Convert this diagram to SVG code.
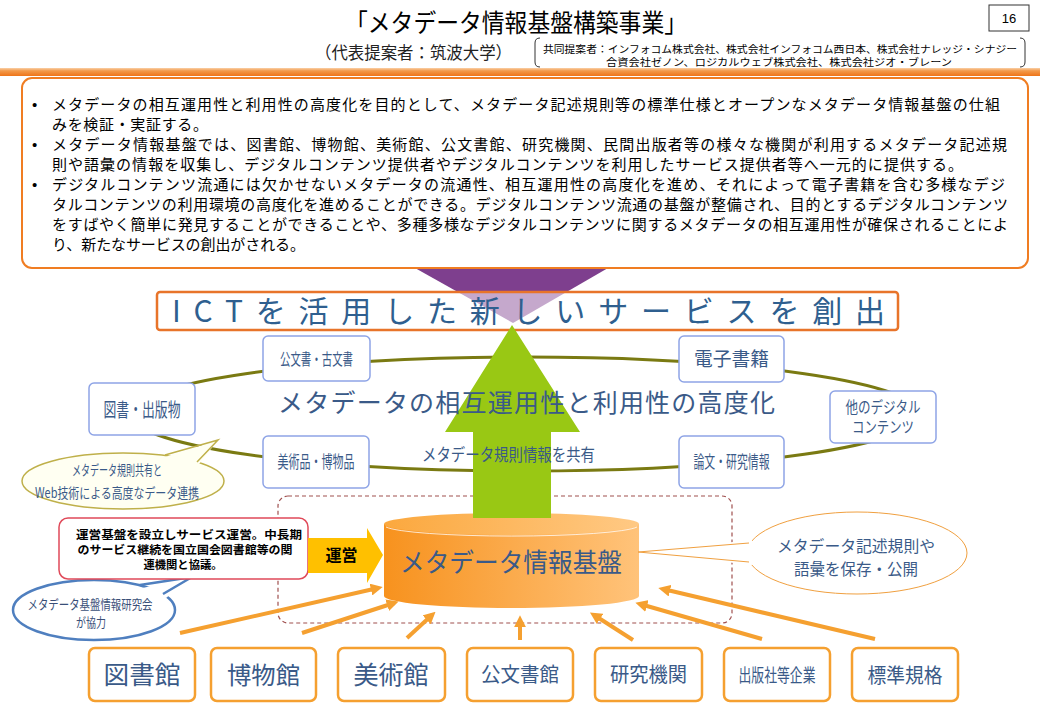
<svg xmlns="http://www.w3.org/2000/svg" width="1040" height="720" viewBox="0 0 1040 720">
<defs>
<style>
text{font-family:'Noto Sans CJK JP','Noto Sans',sans-serif;}
.blk{fill:#000;}
.blu{fill:#3A5A88;}
.ringbox{fill:#fff;stroke:#8EA4E6;stroke-width:1.5;}
.botbox{fill:#fff;stroke:#F5A030;stroke-width:2.5;}
.conn{stroke:#F5A030;stroke-width:4;fill:none;marker-end:url(#ah);}
</style>
<marker id="ah" viewBox="0 0 10 10" refX="6" refY="5" markerWidth="3" markerHeight="3" orient="auto" markerUnits="strokeWidth">
<path d="M0,0 L10,5 L0,10 Z" fill="#F5A030"/>
</marker>
<linearGradient id="hdr" x1="0" y1="0" x2="0" y2="1">
<stop offset="0" stop-color="#FAD0A8"/>
<stop offset="0.35" stop-color="#F39A4A"/>
<stop offset="1" stop-color="#EE7418"/>
</linearGradient>
<linearGradient id="cylBody" x1="0" y1="0" x2="1" y2="0">
<stop offset="0" stop-color="#F7921E"/>
<stop offset="1" stop-color="#FFC37A"/>
</linearGradient>
<linearGradient id="cylTop" x1="0" y1="0" x2="1" y2="0">
<stop offset="0" stop-color="#FBA83E"/>
<stop offset="1" stop-color="#FFC984"/>
</linearGradient>
</defs>

<!-- header -->
<g id="header">
<text x="345" y="32" font-size="25" textLength="342" lengthAdjust="spacingAndGlyphs" class="blk">「メタデータ情報基盤構築事業」</text>
<rect x="989" y="5" width="40" height="26" fill="#fff" stroke="#333" stroke-width="1"/>
<text x="1009" y="23" font-size="13" text-anchor="middle" style="font-family:'Liberation Sans',sans-serif" class="blk">16</text>
<text x="315" y="59" font-size="17" textLength="197" lengthAdjust="spacingAndGlyphs" fill="#222">（代表提案者：筑波大学）</text>
<path d="M540 38 Q535 38 535 43 L535 62 Q535 67 540 67" fill="none" stroke="#333" stroke-width="1"/>
<path d="M1020 38 Q1025 38 1025 43 L1025 62 Q1025 67 1020 67" fill="none" stroke="#333" stroke-width="1"/>
<text x="543" y="52.5" font-size="10" textLength="474" lengthAdjust="spacingAndGlyphs" class="blk">共同提案者：インフォコム株式会社、株式会社インフォコム西日本、株式会社ナレッジ・シナジー</text>
<text x="606" y="65.5" font-size="10" textLength="346" lengthAdjust="spacingAndGlyphs" class="blk">合資会社ゼノン、ロジカルウェブ株式会社、株式会社ジオ・ブレーン</text>
<rect x="0" y="68" width="1040" height="8" fill="url(#hdr)"/>
</g>

<!-- purple triangle -->
<polygon id="funnel" points="415,268 608,268 513,323" fill="#7E3F8E"/>

<!-- summary text box -->
<g id="summary">
<rect x="22" y="78" width="1006" height="190" rx="10" fill="#fff" stroke="#F07D22" stroke-width="2"/>
<g font-size="15" class="blk">
<text x="32" y="109.5" style="font-family:'Liberation Sans',sans-serif">•</text>
<text x="32" y="149.5" style="font-family:'Liberation Sans',sans-serif">•</text>
<text x="32" y="189.5" style="font-family:'Liberation Sans',sans-serif">•</text>
<text x="52" y="109.5" textLength="948" lengthAdjust="spacing">メタデータの相互運用性と利用性の高度化を目的として、メタデータ記述規則等の標準仕様とオープンなメタデータ情報基盤の仕組</text>
<text x="52" y="129.5" textLength="156" lengthAdjust="spacing">みを検証・実証する。</text>
<text x="52" y="149.5" textLength="955" lengthAdjust="spacing">メタデータ情報基盤では、図書館、博物館、美術館、公文書館、研究機関、民間出版者等の様々な機関が利用するメタデータ記述規</text>
<text x="52" y="169.5" textLength="911" lengthAdjust="spacing">則や語彙の情報を収集し、デジタルコンテンツ提供者やデジタルコンテンツを利用したサービス提供者等へ一元的に提供する。</text>
<text x="52" y="189.5" textLength="953" lengthAdjust="spacing">デジタルコンテンツ流通には欠かせないメタデータの流通性、相互運用性の高度化を進め、それによって電子書籍を含む多様なデジ</text>
<text x="52" y="209.5" textLength="956" lengthAdjust="spacing">タルコンテンツの利用環境の高度化を進めることができる。デジタルコンテンツ流通の基盤が整備され、目的とするデジタルコンテンツ</text>
<text x="52" y="229.5" textLength="956" lengthAdjust="spacing">をすばやく簡単に発見することができることや、多種多様なデジタルコンテンツに関するメタデータの相互運用性が確保されることによ</text>
<text x="52" y="249.5" textLength="253" lengthAdjust="spacing">り、新たなサービスの創出がされる。</text>
</g>
</g>

<!-- ICT box -->
<g id="ict">
<rect x="157" y="292" width="741" height="38" rx="3" fill="#fff" fill-opacity="0.55" stroke="#E8742A" stroke-width="2.5"/>
<text x="172" y="322" font-size="30" textLength="713" lengthAdjust="spacing" fill="#2F5F8F">ICTを活用した新しいサービスを創出</text>
</g>

<!-- ring -->
<ellipse id="ring" cx="525" cy="414" rx="395" ry="57" fill="none" stroke="#7A7A12" stroke-width="3"/>

<!-- dashed platform area -->
<rect id="platform-area" x="278" y="496" width="454" height="127" rx="10" fill="none" stroke="#A0504F" stroke-width="1.2" stroke-dasharray="4 3"/>

<!-- cylinder -->
<g id="metadata-platform">
<path d="M384 524 L384 596 A127.5 12 0 0 0 639 596 L639 524 Z" fill="url(#cylBody)"/>
<ellipse cx="511.5" cy="524" rx="127.5" ry="11" fill="url(#cylTop)"/>
<path d="M386 527 A127.5 11 0 0 0 637 527" fill="none" stroke="#fff" stroke-opacity="0.75" stroke-width="1"/>
</g>

<!-- green arrow -->
<polygon id="up-arrow" points="512,325 580,432 551,432 551,518 473,518 473,432 445,432" fill="#99C814"/>

<text id="platform-label" x="400" y="572" font-size="26" textLength="222" lengthAdjust="spacingAndGlyphs" class="blu">メタデータ情報基盤</text>

<!-- ring texts -->
<text id="ring-label" x="278" y="412" font-size="25" textLength="497" lengthAdjust="spacing" class="blu">メタデータの相互運用性と利用性の高度化</text>
<text id="share-label" x="422" y="461" font-size="17" textLength="173" lengthAdjust="spacingAndGlyphs" class="blu">メタデータ規則情報を共有</text>

<!-- ring boxes -->
<g id="n-kobunsho">
<rect x="263" y="336" width="107" height="45" rx="5" class="ringbox"/>
<text x="316.5" y="365" font-size="16" text-anchor="middle" textLength="73" lengthAdjust="spacingAndGlyphs" class="blu">公文書・古文書</text>
</g>
<g id="n-tosho">
<rect x="89" y="383" width="106" height="52" rx="5" class="ringbox"/>
<text x="142" y="416.5" font-size="19" text-anchor="middle" textLength="77" lengthAdjust="spacingAndGlyphs" class="blu">図書・出版物</text>
</g>
<g id="n-bijutsuhin">
<rect x="263" y="436" width="106" height="52" rx="5" class="ringbox"/>
<text x="316" y="468" font-size="17" text-anchor="middle" textLength="77" lengthAdjust="spacingAndGlyphs" class="blu">美術品・博物品</text>
</g>
<g id="n-denshi">
<rect x="679" y="336" width="105" height="46" rx="5" class="ringbox"/>
<text x="731.5" y="366" font-size="19.5" text-anchor="middle" textLength="75" lengthAdjust="spacingAndGlyphs" class="blu">電子書籍</text>
</g>
<g id="n-other">
<rect x="830" y="391" width="106" height="52" rx="5" class="ringbox"/>
<text x="883" y="412.5" font-size="15.5" text-anchor="middle" textLength="75" lengthAdjust="spacingAndGlyphs" class="blu">他のデジタル</text>
<text x="883" y="432.5" font-size="15.5" text-anchor="middle" textLength="62" lengthAdjust="spacingAndGlyphs" class="blu">コンテンツ</text>
</g>
<g id="n-ronbun">
<rect x="679" y="436" width="105" height="52" rx="5" class="ringbox"/>
<text x="731.5" y="468" font-size="17" text-anchor="middle" textLength="76" lengthAdjust="spacingAndGlyphs" class="blu">論文・研究情報</text>
</g>

<!-- callout: web link -->
<g id="callout-web">
<ellipse cx="123" cy="481" rx="101" ry="28" fill="#FFFFF2" stroke="#BFB04A" stroke-width="1.5"/>
<path d="M162 458 L218 440 L199 464 Z" fill="#FFFFF2"/>
<path d="M165 455 L218 440 L197 462" fill="none" stroke="#BFB04A" stroke-width="1.5"/>
<text x="117" y="475" font-size="14" text-anchor="middle" textLength="90" lengthAdjust="spacingAndGlyphs" class="blu">メタデータ規則共有と</text>
<text x="117" y="498" font-size="14" text-anchor="middle" textLength="164" lengthAdjust="spacingAndGlyphs" class="blu">Web技術による高度なデータ連携</text>
</g>

<!-- callout: research group -->
<g id="callout-kenkyukai">
<ellipse cx="94" cy="610" rx="81" ry="30" fill="#fff" stroke="#4F7FBF" stroke-width="2.5"/>
<path d="M138 589 L192 577 L166 598 Z" fill="#fff"/>
<path d="M140 585 L192 577 L163 594" fill="none" stroke="#4F7FBF" stroke-width="2.5" stroke-linejoin="round"/>
<text x="90" y="608.5" font-size="13" text-anchor="middle" textLength="125" lengthAdjust="spacingAndGlyphs" fill="#3A4F78">メタデータ基盤情報研究会</text>
<text x="91" y="627" font-size="13" text-anchor="middle" textLength="30" lengthAdjust="spacingAndGlyphs" fill="#3A4F78">が協力</text>
</g>

<!-- callout: operation -->
<g id="callout-unei">
<rect x="59" y="518" width="249" height="61" rx="9" fill="#fff" stroke="#E04A5A" stroke-width="1.5"/>
<text x="189" y="539" font-size="11.5" font-weight="bold" text-anchor="middle" textLength="226" lengthAdjust="spacingAndGlyphs" class="blk">運営基盤を設立しサービス運営。中長期</text>
<text x="185" y="554" font-size="11.5" font-weight="bold" text-anchor="middle" textLength="215" lengthAdjust="spacingAndGlyphs" class="blk">のサービス継続を国立国会図書館等の関</text>
<text x="183" y="569" font-size="11.5" font-weight="bold" text-anchor="middle" textLength="79" lengthAdjust="spacingAndGlyphs" class="blk">連機関と協議。</text>
</g>

<!-- operation arrow -->
<g id="unei-arrow">
<polygon points="308,538 367,538 367,528 383,555 367,583 367,573 308,573" fill="#FFC000"/>
<text x="341.5" y="561" font-size="16" font-weight="bold" text-anchor="middle" class="blk">運営</text>
</g>

<!-- callout: store/publish -->
<g id="callout-hozon">
<ellipse cx="857" cy="553" rx="110" ry="41" fill="#fff" stroke="#F0A040" stroke-width="1"/>
<path d="M752 540 L638 552 L752 565 Z" fill="#fff"/>
<path d="M749 543 L638 552 L749 562" fill="none" stroke="#F0A040" stroke-width="1"/>
<text x="856" y="551.5" font-size="16" text-anchor="middle" textLength="158" lengthAdjust="spacingAndGlyphs" class="blu">メタデータ記述規則や</text>
<text x="856" y="575" font-size="16" text-anchor="middle" textLength="124" lengthAdjust="spacingAndGlyphs" class="blu">語彙を保存・公開</text>
</g>

<!-- connectors -->
<g id="connectors">
<line x1="180" y1="633" x2="378" y2="588" class="conn"/>
<line x1="302" y1="633" x2="394" y2="603" class="conn"/>
<line x1="407" y1="638" x2="432" y2="615" class="conn"/>
<line x1="520" y1="640" x2="520" y2="620" class="conn"/>
<line x1="633" y1="640" x2="594" y2="615" class="conn"/>
<line x1="762" y1="639" x2="640" y2="604" class="conn"/>
<line x1="875" y1="639" x2="663" y2="589" class="conn"/>
</g>

<!-- bottom nodes -->
<g id="b-toshokan">
<rect x="89" y="648" width="106" height="53" rx="6" class="botbox"/>
<text x="142" y="684" font-size="25" text-anchor="middle" textLength="77" lengthAdjust="spacingAndGlyphs" class="blu">図書館</text>
</g>
<g id="b-hakubutsukan">
<rect x="211" y="648" width="105" height="53" rx="6" class="botbox"/>
<text x="263.5" y="683.5" font-size="24" text-anchor="middle" textLength="73" lengthAdjust="spacingAndGlyphs" class="blu">博物館</text>
</g>
<g id="b-bijutsukan">
<rect x="338" y="648" width="107" height="53" rx="6" class="botbox"/>
<text x="391" y="684" font-size="25" text-anchor="middle" textLength="75" lengthAdjust="spacingAndGlyphs" class="blu">美術館</text>
</g>
<g id="b-kobunshokan">
<rect x="467" y="648" width="106" height="53" rx="6" class="botbox"/>
<text x="520" y="682" font-size="20" text-anchor="middle" textLength="78" lengthAdjust="spacingAndGlyphs" class="blu">公文書館</text>
</g>
<g id="b-kenkyukikan">
<rect x="595" y="648" width="107" height="53" rx="6" class="botbox"/>
<text x="648.5" y="682" font-size="20" text-anchor="middle" textLength="77" lengthAdjust="spacingAndGlyphs" class="blu">研究機関</text>
</g>
<g id="b-shuppansha">
<rect x="724" y="648" width="106" height="53" rx="6" class="botbox"/>
<text x="777" y="681.5" font-size="18" text-anchor="middle" textLength="77" lengthAdjust="spacingAndGlyphs" class="blu">出版社等企業</text>
</g>
<g id="b-hyojun">
<rect x="852" y="648" width="106" height="53" rx="6" class="botbox"/>
<text x="905" y="682.5" font-size="20" text-anchor="middle" textLength="75" lengthAdjust="spacingAndGlyphs" class="blu">標準規格</text>
</g>
</svg>
